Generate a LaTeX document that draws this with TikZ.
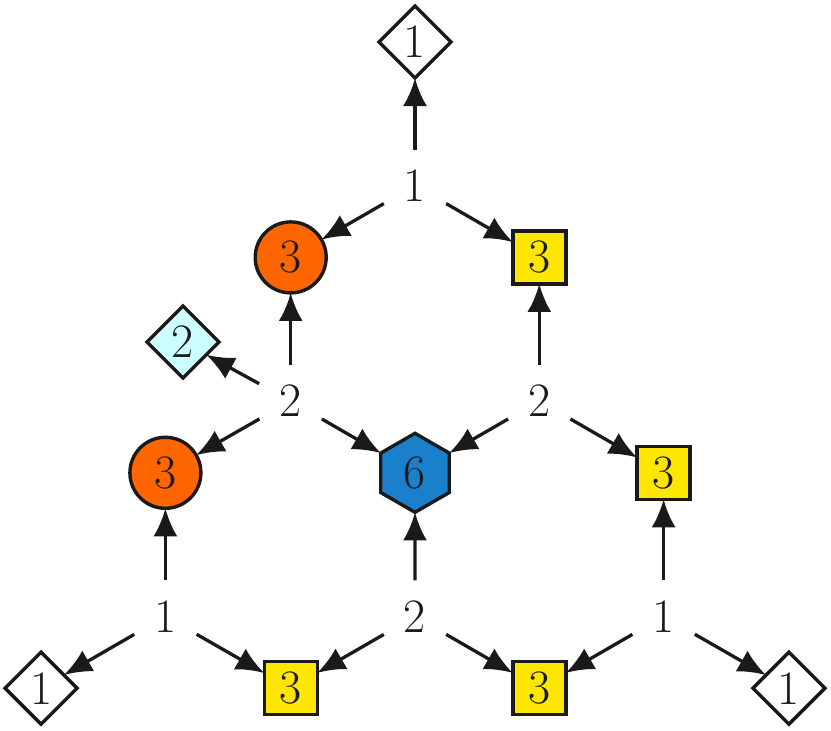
\documentclass[tikz,border=0pt]{standalone}
\usetikzlibrary{shapes.geometric,arrows.meta}
\definecolor{orng}{RGB}{255,102,0}
\definecolor{ylw}{RGB}{255,230,0}
\definecolor{lcyan}{RGB}{204,255,255}
\definecolor{hblue}{RGB}{26,128,204}
\definecolor{ink}{RGB}{26,26,26}
\begin{document}
\begin{tikzpicture}[x=1pt,y=-1pt,
  every node/.style={font=\fontsize{48}{58}\selectfont, text=ink, inner sep=0pt, outer sep=0pt},
  lbl/.style={circle, minimum size=72pt},
  dia/.style={diamond, draw=ink, line width=3.4pt, minimum size=72pt, fill=white},
  cyd/.style={dia, fill=lcyan},
  orc/.style={circle, draw=ink, line width=3.4pt, minimum size=71pt, fill=orng},
  ysq/.style={rectangle, draw=ink, line width=3.4pt, minimum size=53pt, fill=ylw},
  hexa/.style={regular polygon, regular polygon sides=6, shape border rotate=30, draw=ink, line width=3.4pt, minimum size=79pt, fill=hblue},
  arr/.style={-{Latex[length=28pt,width=24pt]}, line width=3.3pt, draw=ink}
]
\useasboundingbox (0,0) rectangle (831,731);
% columns
\def\cA{41.1}\def\cB{165.4}\def\cC{290.7}\def\cD{415}\def\cE{539.3}\def\cF{663.6}\def\cG{788.9}
% rows
\def\rA{42}\def\rB{185.6}\def\rC{257.4}\def\rD{401}\def\rE{472.8}\def\rF{616.4}\def\rG{688.2}

\node[dia] (d0) at (\cD,\rA) {1};
\node[lbl] (l1) at (\cD,\rB) {1};
\node[orc] (o1) at (\cC,\rC) {3};
\node[ysq] (y1) at (\cE,\rC) {3};
\node[cyd] (cy) at (183,342) {2};
\node[lbl] (l2) at (\cC,\rD) {2};
\node[lbl] (l3) at (\cE,\rD) {2};
\node[orc] (o2) at (\cB,\rE) {3};
\node[hexa] (hx) at (\cD,\rE) {6};
\node[ysq] (y2) at (\cF,\rE) {3};
\node[lbl] (l4) at (\cB,\rF) {1};
\node[lbl] (l5) at (\cD,\rF) {2};
\node[lbl] (l6) at (\cF,\rF) {1};
\node[dia] (d1) at (\cA,\rG) {1};
\node[ysq] (y3) at (\cC,\rG) {3};
\node[ysq] (y4) at (\cE,\rG) {3};
\node[dia] (d2) at (\cG,\rG) {1};

\draw[arr] (l1) -- (d0);
\draw[arr] (l1) -- (o1);
\draw[arr] (l1) -- (y1);
\draw[arr] (l2) -- (o1);
\draw[arr] (l2) -- (cy);
\draw[arr] (l2) -- (o2);
\draw[arr] (l2) -- (hx);
\draw[arr] (l3) -- (y1);
\draw[arr] (l3) -- (hx);
\draw[arr] (l3) -- (y2);
\draw[arr] (l4) -- (o2);
\draw[arr] (l4) -- (d1);
\draw[arr] (l4) -- (y3);
\draw[arr] (l5) -- (hx);
\draw[arr] (l5) -- (y3);
\draw[arr] (l5) -- (y4);
\draw[arr] (l6) -- (y2);
\draw[arr] (l6) -- (y4);
\draw[arr] (l6) -- (d2);
\end{tikzpicture}
\end{document}
